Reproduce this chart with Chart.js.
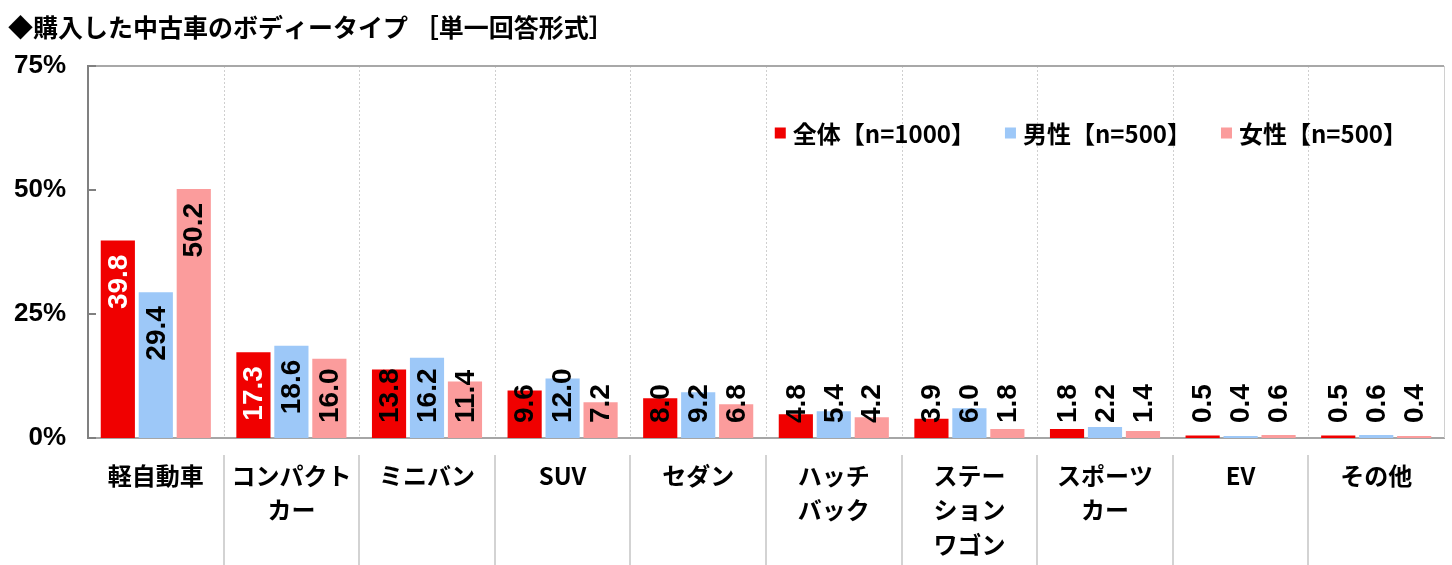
<!DOCTYPE html>
<html lang="ja">
<head>
<meta charset="utf-8">
<script src="https://cdn.jsdelivr.net/npm/chart.js@4.4.1/dist/chart.umd.min.js"></script>
<style>
  html, body { margin: 0; padding: 0; background: #fff; }
</style>
</head>
<body>
<canvas id="chart" width="1452" height="565"></canvas>
<script>
const categories = [['軽自動車'], ['コンパクト', 'カー'], ['ミニバン'], ['SUV'], ['セダン'], ['ハッチ', 'バック'], ['ステー', 'ション', 'ワゴン'], ['スポーツ', 'カー'], ['EV'], ['その他']];
const seriesNames = ['全体【n=1000】', '男性【n=500】', '女性【n=500】'];
const totalValues = [39.8, 17.3, 13.8, 9.6, 8.0, 4.8, 3.9, 1.8, 0.5, 0.5];
const maleValues = [29.4, 18.6, 16.2, 12.0, 9.2, 5.4, 6.0, 2.2, 0.4, 0.6];
const femaleValues = [50.2, 16.0, 11.4, 7.2, 6.8, 4.2, 1.8, 1.4, 0.6, 0.4];
const yTicks = [0, 25, 50, 75];
const seriesColors = ['#f00000', '#9dc8f8', '#fb9c9c'];

const NUM_FONT = "'Liberation Sans', Arial, sans-serif";
const JP_FONT = "'Noto Sans CJK JP', 'Noto Sans', sans-serif";

function strokeLine(ctx, x1, y1, x2, y2) {
  ctx.beginPath();
  ctx.moveTo(x1, y1);
  ctx.lineTo(x2, y2);
  ctx.stroke();
}

// category separators, plot border, inner y ticks, legend inside plot
const decorPlugin = {
  id: 'decor',
  beforeDatasetsDraw(chart) {
    const { ctx, chartArea: a, scales: { x } } = chart;
    ctx.save();
    ctx.strokeStyle = '#cfcfcf';
    ctx.lineWidth = 1;
    ctx.setLineDash([2, 2]);
    for (let i = 1; i < categories.length; i++) {
      const px = Math.round((x.getPixelForValue(i - 1) + x.getPixelForValue(i)) / 2) + 0.5;
      strokeLine(ctx, px, a.top, px, a.bottom);
    }
    ctx.restore();
  },
  afterDraw(chart) {
    const { ctx, chartArea: a, scales: { x, y } } = chart;
    ctx.save();
    // long category lines under the axis
    ctx.strokeStyle = '#c4c4c4';
    ctx.lineWidth = 1.5;
    for (let i = 1; i < categories.length; i++) {
      const px = Math.round((x.getPixelForValue(i - 1) + x.getPixelForValue(i)) / 2);
      strokeLine(ctx, px, a.bottom + 17, px, chart.height);
    }
    // top and right border of plot
    ctx.strokeStyle = '#a8a8a8';
    ctx.lineWidth = 2;
    strokeLine(ctx, a.left, a.top, a.right, a.top);
    ctx.strokeStyle = '#d0d0d0';
    ctx.lineWidth = 1;
    strokeLine(ctx, a.right + 0.5, a.top, a.right + 0.5, a.bottom);
    // inner tick marks on y axis
    ctx.strokeStyle = '#808080';
    ctx.lineWidth = 2;
    y.ticks.forEach(t => {
      const py = y.getPixelForValue(t.value);
      strokeLine(ctx, a.left, py, a.left + 8, py);
    });

    // legend, one row, top right of the plot
    ctx.font = "bold 24px " + JP_FONT;
    ctx.textBaseline = 'middle';
    ctx.textAlign = 'left';
    const box = 11, boxGap = 7, itemGap = 30;
    const widths = chart.data.datasets.map(ds => box + boxGap + ctx.measureText(ds.label).width);
    const total = widths.reduce((s, w) => s + w, 0) + itemGap * (widths.length - 1);
    let lx = a.right - 37 - total;
    const ly = a.top + 67;
    chart.data.datasets.forEach((ds, k) => {
      ctx.fillStyle = ds.backgroundColor;
      ctx.fillRect(lx, ly - box / 2, box, box);
      ctx.fillStyle = '#000';
      ctx.fillText(ds.label, lx + box + boxGap, ly + 1);
      lx += widths[k] + itemGap;
    });
    ctx.restore();
  }
};

// vertical value labels
const valueLabels = {
  id: 'valueLabels',
  afterDatasetsDraw(chart) {
    const { ctx } = chart;
    ctx.save();
    ctx.font = "bold 28px " + NUM_FONT;
    chart.data.datasets.forEach((ds, di) => {
      const meta = chart.getDatasetMeta(di);
      meta.data.forEach((bar, i) => {
        const text = ds.data[i].toFixed(1);
        const w = ctx.measureText(text).width;
        let top = bar.y + 14;
        let white = di === 0;
        const limit = bar.base - 15;
        if (top + w > limit) {
          top = limit - w;
          white = false;
        }
        ctx.save();
        ctx.translate(bar.x, top);
        ctx.rotate(-Math.PI / 2);
        ctx.textAlign = 'right';
        ctx.textBaseline = 'middle';
        ctx.fillStyle = white ? '#fff' : '#000';
        ctx.fillText(text, 0, 1);
        ctx.restore();
      });
    });
    ctx.restore();
  }
};

const seriesData = [totalValues, maleValues, femaleValues];

new Chart(document.getElementById('chart'), {
  type: 'bar',
  data: {
    labels: categories,
    datasets: seriesNames.map((name, k) => ({
      label: name,
      data: seriesData[k],
      backgroundColor: seriesColors[k],
      borderWidth: 0,
      categoryPercentage: 0.84,
      barPercentage: 0.9
    }))
  },
  options: {
    responsive: false,
    animation: false,
    layout: { padding: { left: 8, right: 8, top: 0, bottom: 0 } },
    plugins: {
      title: {
        display: true,
        text: '◆購入した中古車のボディータイプ ［単一回答形式］',
        align: 'start',
        color: '#000',
        font: { family: JP_FONT, size: 25, weight: 'bold' },
        padding: { top: 12, bottom: 24 }
      },
      legend: { display: false },
      tooltip: { enabled: false }
    },
    scales: {
      x: {
        grid: { display: false, drawTicks: false },
        border: { color: '#a6a6a6', width: 2 },
        ticks: {
          color: '#000',
          padding: 20,
          maxRotation: 0,
          autoSkip: false,
          font: { family: JP_FONT, size: 24, weight: 'bold', lineHeight: 1.45 }
        },
        afterFit(s) { s.height = 127; }
      },
      y: {
        min: 0,
        max: 75,
        afterBuildTicks(s) { s.ticks = yTicks.map(v => ({ value: v })); },
        grid: { display: false, drawTicks: false },
        border: { color: '#808080', width: 2 },
        ticks: {
          color: '#000',
          padding: 22,
          callback: v => v + '%',
          font: { family: NUM_FONT, size: 26, weight: 'bold' }
        },
        afterFit(s) { s.width = 80; }
      }
    }
  },
  plugins: [decorPlugin, valueLabels]
});
</script>
</body>
</html>
